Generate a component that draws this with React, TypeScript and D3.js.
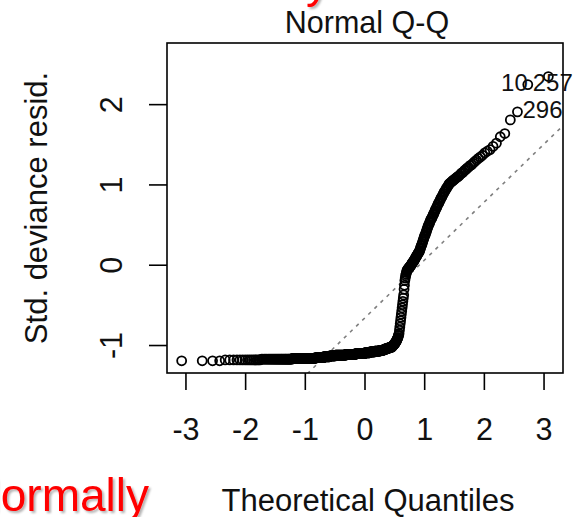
import React from "react";
import * as d3 from "d3";

const W = 587;
const H = 517;

// Sorted standardized deviance residuals (lowest to highest), grouped by stretch of the curve
const residFlatLeft = [
  -1.19, -1.19, -1.19, -1.19, -1.18, -1.18, -1.18, -1.18, -1.18, -1.18, -1.18,
  -1.18, -1.18, -1.18, -1.18, -1.18, -1.18, -1.18, -1.18, -1.17, -1.17,
  -1.17, -1.17, -1.17, -1.17, -1.17, -1.17, -1.17, -1.17, -1.17, -1.17, -1.17,
];
const residFlatMid = [
  -1.17, -1.17, -1.17, -1.17, -1.17, -1.17, -1.17, -1.17, -1.17, -1.17,
  -1.17, -1.17, -1.17, -1.17, -1.17, -1.17, -1.17, -1.17, -1.17, -1.17,
  -1.16, -1.16, -1.16, -1.16, -1.16, -1.16, -1.16, -1.16, -1.16, -1.16,
  -1.16, -1.16, -1.16, -1.16, -1.16, -1.16, -1.16, -1.16, -1.16, -1.16,
  -1.16, -1.16, -1.16,
  -1.16, -1.16, -1.16, -1.16, -1.16, -1.16, -1.16, -1.16, -1.16, -1.16,
  -1.16, -1.16, -1.16, -1.16, -1.16, -1.16, -1.16, -1.16, -1.16, -1.16,
  -1.15, -1.15, -1.15, -1.15, -1.15, -1.15, -1.15, -1.15, -1.15, -1.15,
  -1.15, -1.15, -1.15, -1.15, -1.15, -1.15, -1.15, -1.15, -1.15, -1.15,
  -1.14, -1.14, -1.14, -1.14, -1.14, -1.14, -1.14, -1.14, -1.14, -1.14,
  -1.14, -1.14, -1.14, -1.14, -1.14,
  -1.13, -1.13, -1.13, -1.13, -1.13, -1.13, -1.13, -1.13, -1.13, -1.13,
  -1.13, -1.13, -1.13, -1.13, -1.13,
];
const residFlatRight = [
  -1.12, -1.12, -1.12, -1.12, -1.12, -1.12, -1.12, -1.12, -1.12, -1.12,
  -1.12, -1.12, -1.12, -1.12, -1.12, -1.12, -1.12, -1.12, -1.12, -1.12,
  -1.12, -1.12, -1.12, -1.12, -1.12, -1.12, -1.12, -1.12, -1.12, -1.12,
  -1.11, -1.11, -1.11, -1.11, -1.11, -1.11, -1.11, -1.11, -1.11, -1.11,
  -1.11, -1.11, -1.11, -1.11, -1.11, -1.11, -1.11, -1.11, -1.11, -1.11,
  -1.11, -1.11, -1.11, -1.11, -1.11, -1.11, -1.11, -1.11, -1.11, -1.11,
  -1.10, -1.10, -1.10, -1.10, -1.10, -1.10, -1.10, -1.10, -1.10, -1.10,
  -1.10, -1.10, -1.10, -1.10, -1.10, -1.10, -1.10, -1.10, -1.10, -1.10,
  -1.10, -1.10, -1.10, -1.10, -1.10, -1.10, -1.10, -1.10, -1.10, -1.10,
  -1.09, -1.09, -1.09, -1.09, -1.09, -1.09, -1.09, -1.09, -1.09, -1.09,
  -1.09, -1.09, -1.09, -1.09, -1.09,
  -1.08, -1.08, -1.08, -1.08, -1.08, -1.08, -1.08, -1.08, -1.08, -1.08,
  -1.08, -1.08, -1.08, -1.08, -1.08,
  -1.07, -1.07, -1.07, -1.07, -1.07, -1.07, -1.07, -1.07, -1.07, -1.07,
  -1.07, -1.07, -1.07, -1.07, -1.07,
  -1.06, -1.06, -1.06, -1.06, -1.06, -1.06, -1.06, -1.06, -1.06, -1.06, -1.06,
  -1.05, -1.05, -1.05, -1.05, -1.05, -1.05, -1.05,
  -1.04, -1.04, -1.04, -1.04, -1.04, -1.04, -1.04,
  -1.03, -1.03, -1.03, -1.03, -1.03, -1.03,
  -1.02, -1.02, -1.02, -1.02, -1.02, -1.02,
];
const residRise = [
  -1.01, -1.01, -1.0, -1.0, -0.99, -0.99, -0.98, -0.98, -0.97, -0.96, -0.96, -0.95,
  -0.94, -0.93, -0.92, -0.91, -0.9, -0.88, -0.87, -0.85,
  -0.81, -0.77, -0.73, -0.69, -0.65, -0.61, -0.57, -0.53, -0.49, -0.45, -0.41, -0.37,
  -0.3, -0.25, -0.19, -0.16, -0.13, -0.11, -0.09, -0.07,
];
const residUpper = [
  -0.06, -0.05, -0.05, -0.04, -0.03, -0.03, -0.02, -0.01, -0.01, 0.0,
  0.01, 0.02, 0.03, 0.04, 0.04, 0.05, 0.06, 0.07, 0.08, 0.09,
  0.1, 0.11, 0.12, 0.13, 0.14, 0.15, 0.16, 0.17, 0.18,
  0.2, 0.22, 0.24, 0.25, 0.27, 0.29, 0.31, 0.33, 0.35, 0.37,
  0.38, 0.4, 0.42, 0.44, 0.46, 0.48, 0.5, 0.51, 0.53, 0.55, 0.57, 0.58, 0.59,
  0.61, 0.63, 0.64, 0.66, 0.68, 0.7, 0.71, 0.73, 0.75, 0.77,
  0.78, 0.8, 0.82, 0.84, 0.85, 0.87, 0.89, 0.91, 0.92, 0.94, 0.96, 0.97, 0.99, 1.01,
  1.02, 1.03, 1.04, 1.05, 1.06, 1.07, 1.08, 1.09, 1.1, 1.11,
  1.12, 1.14, 1.15, 1.16, 1.18, 1.19, 1.21, 1.22, 1.24, 1.25,
  1.27, 1.29, 1.31, 1.33, 1.35, 1.37, 1.4,
];
const residUpperTail = [1.42, 1.44, 1.48, 1.52, 1.6, 1.64, 1.81, 1.91, 2.25, 2.35];

const residuals = [
  ...residFlatLeft,
  ...residFlatMid,
  ...residFlatRight,
  ...residRise,
  ...residUpper,
  ...residUpperTail,
];

// Observations flagged with their ids (1-based rank in the sorted residuals)
const flaggedIds = ["10", "257", "296"];
const flaggedRanks = [469, 469, 468];

const xTicks = [-3, -2, -1, 0, 1, 2, 3];
const yTicks = [-1, 0, 1, 2];

const title = "Normal Q-Q";
const xLabel = "Theoretical Quantiles";
const yLabel = "Std. deviance resid.";

// Inverse standard normal CDF (Acklam's rational approximation)
function qnorm(p: number): number {
  const a = [-3.969683028665376e1, 2.209460984245205e2, -2.759285104469687e2, 1.38357751867269e2, -3.066479806614716e1, 2.506628277459239];
  const b = [-5.447609879822406e1, 1.615858368580409e2, -1.556989798598866e2, 6.680131188771972e1, -1.328068155288572e1];
  const c = [-7.784894002430293e-3, -3.223964580411365e-1, -2.400758277161838, -2.549732539343734, 4.374664141464968, 2.938163982698783];
  const d = [7.784695709041462e-3, 3.224671290700398e-1, 2.445134137142996, 3.754408661907416];
  const plow = 0.02425;
  if (p < plow) {
    const q = Math.sqrt(-2 * Math.log(p));
    return (((((c[0] * q + c[1]) * q + c[2]) * q + c[3]) * q + c[4]) * q + c[5]) / ((((d[0] * q + d[1]) * q + d[2]) * q + d[3]) * q + 1);
  }
  if (p > 1 - plow) {
    const q = Math.sqrt(-2 * Math.log(1 - p));
    return -(((((c[0] * q + c[1]) * q + c[2]) * q + c[3]) * q + c[4]) * q + c[5]) / ((((d[0] * q + d[1]) * q + d[2]) * q + d[3]) * q + 1);
  }
  const q = p - 0.5;
  const r = q * q;
  return ((((((a[0] * r + a[1]) * r + a[2]) * r + a[3]) * r + a[4]) * r + a[5]) * q) / (((((b[0] * r + b[1]) * r + b[2]) * r + b[3]) * r + b[4]) * r + 1);
}

const FONT = "'Liberation Sans', Arial, Helvetica, sans-serif";

export default function App() {
  const n = residuals.length;
  const aa = n <= 10 ? 3 / 8 : 0.5;
  const theo = residuals.map((_, i) => qnorm((i + 1 - aa) / (n + 1 - 2 * aa)));
  const pts = residuals.map((r, i) => ({ x: theo[i], y: r }));

  // plot region
  const left = 167, right = 563, top = 43, bottom = 373;

  const [x0, x1] = d3.extent(theo) as [number, number];
  const xPad = (x1 - x0) * 0.04;
  const x = d3.scaleLinear().domain([x0 - xPad, x1 + xPad]).range([left, right]);

  const [ylo, yhiRaw] = d3.extent(residuals) as [number, number];
  const yhi = yhiRaw + (yhiRaw - ylo) * 0.075;
  const yPad = (yhi - ylo) * 0.04;
  const y = d3.scaleLinear().domain([ylo - yPad, yhi + yPad]).range([bottom, top]);

  // reference line through the quartiles
  const q1 = d3.quantileSorted(residuals, 0.25) as number;
  const q3 = d3.quantileSorted(residuals, 0.75) as number;
  const slope = (q3 - q1) / (qnorm(0.75) - qnorm(0.25));
  const intercept = q1 - slope * qnorm(0.25);
  const [dx0, dx1] = x.domain();
  const refLine = d3.line<number>()
    .x((v) => x(v))
    .y((v) => y(intercept + slope * v))([dx0, dx1]);

  return (
    <svg
      width={W}
      height={H}
      viewBox={`0 0 ${W} ${H}`}
      style={{ position: "absolute", left: 0, top: 0, display: "block", background: "#fff" }}
      fontFamily={FONT}
    >
      <defs>
        <clipPath id="plot-clip">
          <rect x={left} y={top} width={right - left} height={bottom - top} />
        </clipPath>
        <filter id="soft-shadow" x="-10%" y="-10%" width="130%" height="140%">
          <feDropShadow dx="2" dy="2" stdDeviation="1.2" floodColor="#000" floodOpacity="0.3" />
        </filter>
      </defs>
      <rect x={0} y={0} width={W} height={H} fill="#fff" />

      {/* fragments of slide lettering around the figure */}
      <text x={306} y={-3} fontSize={46} fill="#ff0000" filter="url(#soft-shadow)">y</text>
      <text x={149} y={511} fontSize={46} fill="#ff0000" textAnchor="end" filter="url(#soft-shadow)">
        Normally
      </text>

      {/* title */}
      <text x={(left + right) / 2 + 2} y={33} fontSize={30.5} textAnchor="middle" fill="#111">
        {title}
      </text>

      {/* reference line */}
      <g clipPath="url(#plot-clip)">
        <path d={refLine ?? ""} fill="none" stroke="#7f7f7f" strokeWidth={1.6} strokeDasharray="3.5 5" />
      </g>

      {/* points */}
      <g fill="none" stroke="#000" strokeWidth={1.8}>
        {pts.map((p, i) => (
          <circle key={i} cx={x(p.x)} cy={y(p.y)} r={4.5} />
        ))}
      </g>

      {/* id labels */}
      {flaggedIds.map((id, k) => {
        const p = pts[flaggedRanks[k] - 1];
        const onLeft = k === 0;
        return (
          <text
            key={id}
            x={x(p.x) + (onLeft ? 0 : 5)}
            y={y(p.y) + 6.5}
            fontSize={24}
            textAnchor={onLeft ? "end" : "start"}
            fill="#111"
          >
            {id}
          </text>
        );
      })}

      {/* frame */}
      <rect x={left} y={top} width={right - left} height={bottom - top} fill="none" stroke="#000" strokeWidth={1.6} />

      {/* x axis */}
      <g stroke="#000" strokeWidth={1.6}>
        {xTicks.map((t) => (
          <line key={t} x1={x(t)} x2={x(t)} y1={bottom} y2={bottom + 17} />
        ))}
      </g>
      {xTicks.map((t) => (
        <text key={t} x={x(t)} y={440} fontSize={30.5} textAnchor="middle" fill="#111">
          {t < 0 ? `-${Math.abs(t)}` : `${t}`}
        </text>
      ))}
      <text x={(left + right) / 2 + 3} y={511} fontSize={31} textAnchor="middle" fill="#111">
        {xLabel}
      </text>

      {/* y axis */}
      <g stroke="#000" strokeWidth={1.6}>
        {yTicks.map((t) => (
          <line key={t} x1={left} x2={left - 18} y1={y(t)} y2={y(t)} />
        ))}
      </g>
      {yTicks.map((t) => (
        <text
          key={t}
          transform={`translate(122, ${y(t)}) rotate(-90)`}
          fontSize={30.5}
          textAnchor="middle"
          fill="#111"
        >
          {t < 0 ? `-${Math.abs(t)}` : `${t}`}
        </text>
      ))}
      <text
        transform={`translate(47, ${(top + bottom) / 2}) rotate(-90)`}
        fontSize={31}
        textAnchor="middle"
        fill="#111"
      >
        {yLabel}
      </text>
    </svg>
  );
}
